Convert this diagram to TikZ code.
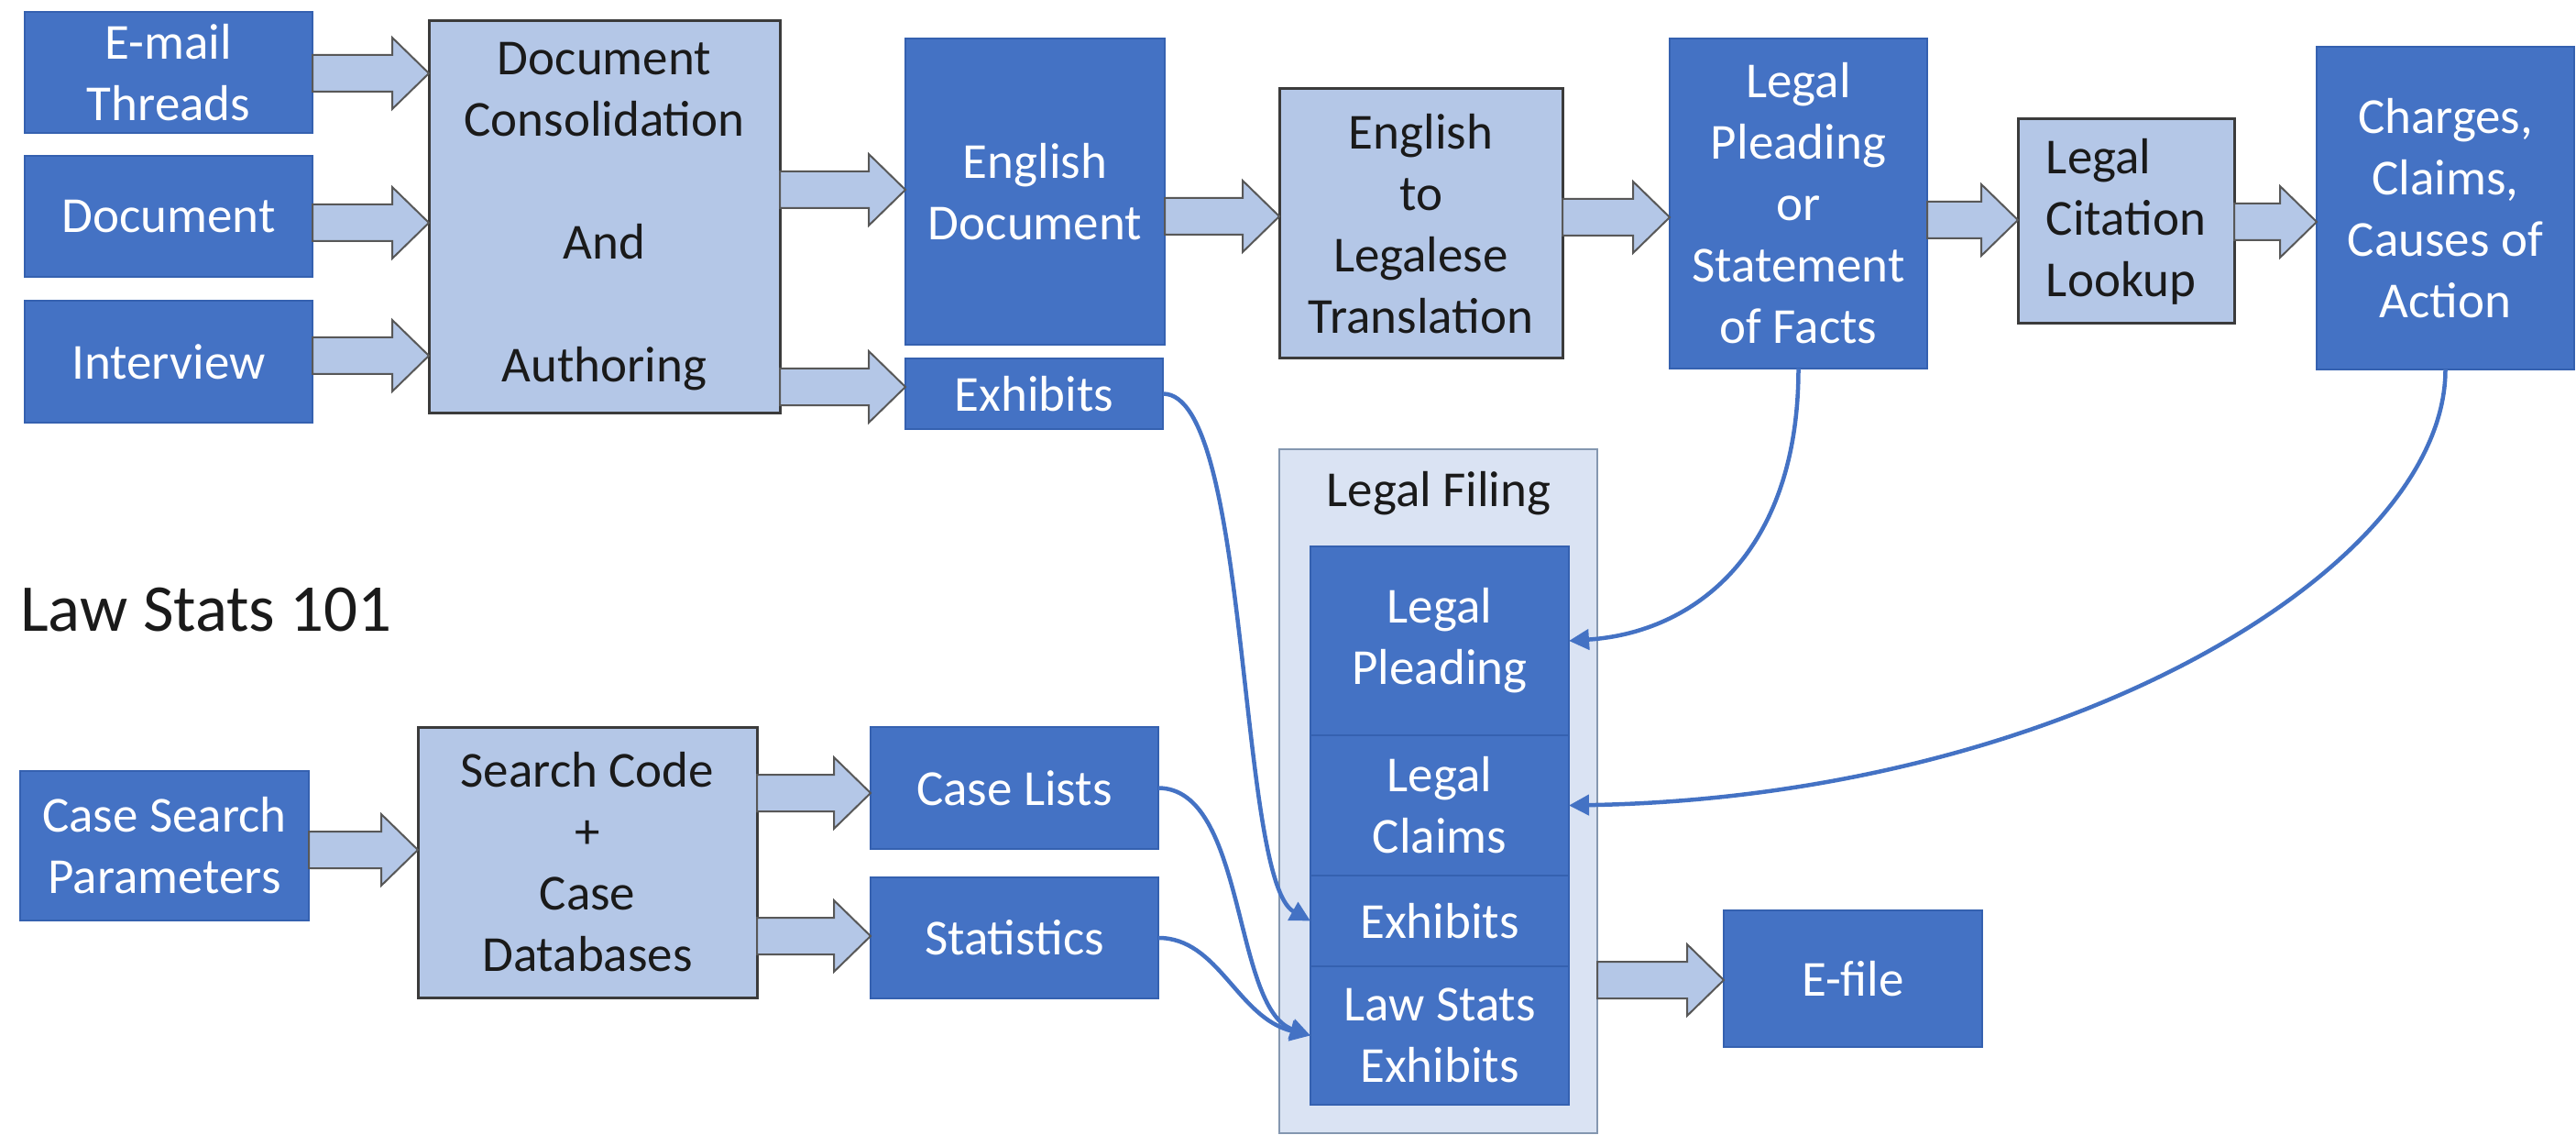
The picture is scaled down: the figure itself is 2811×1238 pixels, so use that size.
\documentclass[tikz,border=0pt]{standalone}
\usepackage{fontspec}
\setmainfont{Carlito}
\usetikzlibrary{calc,arrows.meta}

\definecolor{dkblue}{HTML}{4472C4}
\definecolor{dkedge}{HTML}{3561B0}
\definecolor{ltblue}{HTML}{B4C7E7}
\definecolor{ltedge}{HTML}{3B3B3B}
\definecolor{pale}{HTML}{DAE3F3}
\definecolor{paleedge}{HTML}{8497B0}
\definecolor{ink}{HTML}{1A1A1A}

\tikzset{
  boxbase/.style={rectangle, inner sep=0pt, outer sep=0pt, align=center,
                  font={\fontsize{55}{67}\selectfont}},
  dbox/.style={boxbase, fill=dkblue, draw=dkedge, line width=2pt, text=white},
  lbox/.style={boxbase, fill=ltblue, draw=ltedge, line width=3pt, text=ink},
  filingbox/.style={rectangle, inner sep=0pt, outer sep=0pt, fill=pale,
                    draw=paleedge, line width=2.5pt},
  barrow/.style={fill=ltblue, draw=ltedge!85, line width=2pt, line join=miter},
  link/.style={draw=dkblue, line width=4.5pt,
               -{Triangle[length=22pt,width=22pt]}},
}

% box given by its corners (x1,y1) (x2,y2), y measured downwards
\newcommand\boxnode[7]{%
  \node[#1, minimum width={#5-#3}, minimum height={#6-#4}] (#2)
    at ({(#3+#5)/2},{(#4+#6)/2}) {#7};}

% wide block arrow from the x of #1 to the x of #2, centred on height #3
\newcommand\blockarr[3]{%
  \draw[barrow] let \p1=#1, \p2=#2, \p3=(0,#3) in
    (\x1,\y3+20pt) -- (\x2-40pt,\y3+20pt) -- (\x2-40pt,\y3+39pt) -- (\x2,\y3)
    -- (\x2-40pt,\y3-39pt) -- (\x2-40pt,\y3-20pt) -- (\x1,\y3-20pt) -- cycle;}

\begin{document}
\begin{tikzpicture}[x=1pt,y=-1pt]
\fill[white] (0,0) rectangle (2811,1238);
\useasboundingbox (0,0) rectangle (2811,1238);

% ---- drafting the pleading ----
\boxnode{dbox}{email}{27}{13}{341}{145}{E-mail\\Threads}
\boxnode{dbox}{doc}{27}{170}{341}{302}{Document}
\boxnode{dbox}{interview}{27}{328}{341}{461}{Interview}
\boxnode{lbox}{consol}{468}{23}{851}{450}{Document\\Consolidation\\[67pt]And\\[67pt]Authoring}
\boxnode{dbox}{engdoc}{988}{42}{1271}{376}{English\\Document}
\boxnode{dbox}{exhA}{988}{391}{1269}{468}{Exhibits}
\boxnode{lbox}{etl}{1396}{97}{1705}{391}{English\\to\\Legalese\\Translation}
\boxnode{dbox}{plead}{1822}{42}{2103}{402}{Legal\\Pleading\\or\\Statement\\of Facts}
\boxnode{lbox,align=left}{cite}{2202}{130}{2438}{353}{Legal\\Citation\\Lookup}
\boxnode{dbox}{charges}{2528}{51}{2809}{403}{Charges,\\Claims,\\Causes of\\Action}

% ---- statistics branch ----
\node[anchor=west, inner sep=0pt, text=ink, font={\fontsize{73}{88}\selectfont}]
  (lawstats) at (22,665) {Law Stats 101};
\boxnode{dbox}{casesrch}{22}{841}{337}{1004}{Case Search\\Parameters}
\boxnode{lbox}{code}{456}{793}{826}{1088}{Search Code\\+\\Case\\Databases}
\boxnode{dbox}{caselists}{950}{793}{1264}{926}{Case Lists}
\boxnode{dbox}{stats}{950}{957}{1264}{1089}{Statistics}

% ---- the filing ----
\boxnode{filingbox}{filing}{1396}{490}{1743}{1236}{}
\node[anchor=base, inner sep=0pt, text=ink, font={\fontsize{55}{67}\selectfont}]
  (filingtitle) at (1570,552) {Legal Filing};
\boxnode{dbox}{pleadB}{1430}{596}{1712}{802}{Legal\\Pleading}
\boxnode{dbox}{claims}{1430}{802}{1712}{955}{Legal\\Claims}
\boxnode{dbox}{exhB}{1430}{955}{1712}{1054}{Exhibits}
\boxnode{dbox}{lse}{1430}{1054}{1712}{1205}{Law Stats\\Exhibits}
\boxnode{dbox}{efile}{1881}{993}{2163}{1142}{E-file}

% ---- block arrows ----
\blockarr{(email.east)}{(consol.west)}{80}
\blockarr{(doc.east)}{(consol.west)}{243}
\blockarr{(interview.east)}{(consol.west)}{388}
\blockarr{(consol.east)}{(engdoc.west)}{207}
\blockarr{(consol.east)}{(exhA.west)}{422}
\blockarr{(engdoc.east)}{(etl.west)}{236}
\blockarr{(etl.east)}{(plead.west)}{237}
\blockarr{(plead.east)}{(cite.west)}{240}
\blockarr{(cite.east)}{(charges.west)}{242}
\blockarr{(casesrch.east)}{(code.west)}{927}
\blockarr{(code.east)}{(caselists.west)}{865}
\blockarr{(code.east)}{(stats.west)}{1021}
\blockarr{(filing.east)}{(efile.west)}{1069}

% ---- curved links into the filing ----
\draw[link] (exhA.east) .. controls (1365,429) and (1350,960) .. (exhB.west);
\draw[link] (caselists.east) .. controls (1360,860) and (1345,1100) .. (lse.west);
\draw[link] (stats.east) .. controls (1330,1023) and (1350,1110) .. (lse.west);
\draw[link] (plead.south) .. controls +(0,200) and +(138,-9) .. (pleadB.east);
\draw[link] (charges.south) .. controls +(0,217) and +(538,-9) .. (claims.east);
\end{tikzpicture}
\end{document}
